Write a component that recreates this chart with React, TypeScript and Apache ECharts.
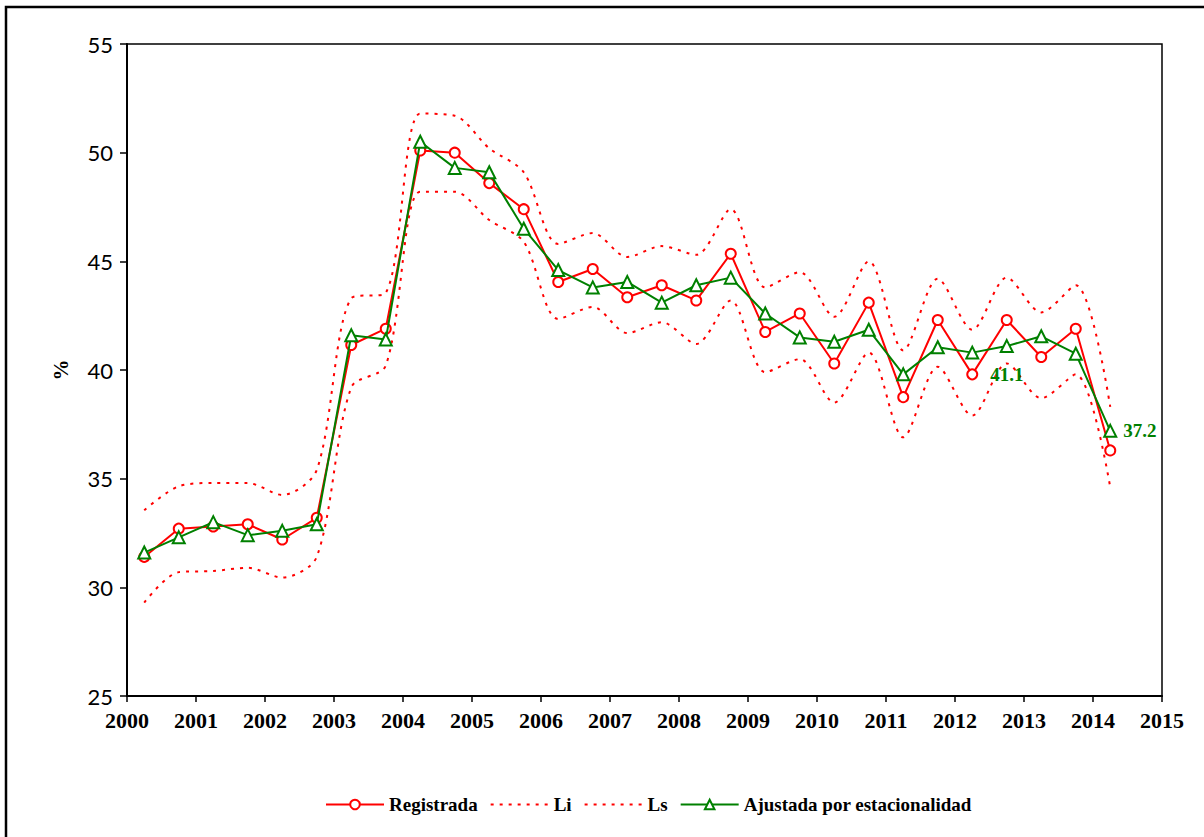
import React, { useEffect, useRef } from "react";
import * as echarts from "echarts";

const times = [
  2000.25, 2000.75, 2001.25, 2001.75, 2002.25, 2002.75, 2003.25, 2003.75,
  2004.25, 2004.75, 2005.25, 2005.75, 2006.25, 2006.75, 2007.25, 2007.75,
  2008.25, 2008.75, 2009.25, 2009.75, 2010.25, 2010.75, 2011.25, 2011.75,
  2012.25, 2012.75, 2013.25, 2013.75, 2014.25,
];

const registrada = [
  31.4, 32.7, 32.8, 32.9, 32.2, 33.2, 41.15, 41.9, 50.1, 50.0, 48.6, 47.4,
  44.05, 44.65, 43.35, 43.9, 43.2, 45.35, 41.75, 42.6, 40.3, 43.1, 38.75,
  42.3, 39.8, 42.3, 40.6, 41.9, 36.3,
];

const ajustada = [
  31.6, 32.3, 33.0, 32.4, 32.6, 32.9, 41.6, 41.4, 50.5, 49.3, 49.1, 46.5,
  44.6, 43.8, 44.05, 43.1, 43.9, 44.25, 42.6, 41.5, 41.3, 41.85, 39.8, 41.05,
  40.8, 41.1, 41.55, 40.75, 37.2,
];

const li = [
  29.3, 30.7, 30.75, 30.9, 30.45, 31.4, 39.2, 40.2, 48.2, 48.2, 46.9, 45.9,
  42.35, 42.9, 41.7, 42.2, 41.2, 43.2, 39.9, 40.5, 38.5, 40.8, 36.9, 40.15,
  37.9, 40.3, 38.7, 39.8, 34.6,
];

const ls = [
  33.55, 34.65, 34.8, 34.8, 34.25, 35.4, 43.3, 43.55, 51.8, 51.7, 50.2, 49.1,
  45.8, 46.3, 45.2, 45.7, 45.3, 47.4, 43.8, 44.5, 42.45, 45.0, 40.9, 44.2,
  41.85, 44.25, 42.65, 43.9, 38.3,
];

// indexes of the adjusted series that carry a value label
const labelledPoints = [25, 28];

const RED = "#ff0000";
const GREEN = "#008000";
const SERIF = "'Liberation Serif', 'Times New Roman', serif";

export default function App() {
  const ref = useRef<HTMLDivElement>(null);

  useEffect(() => {
    if (!ref.current) return;
    const chart = echarts.init(ref.current, undefined, { renderer: "svg" });

    const pairs = (vals: number[]) => vals.map((v, i) => [times[i], v]);

    const ajustadaData = ajustada.map((v, i) => {
      if (labelledPoints.indexOf(i) < 0) return [times[i], v];
      const last = i === ajustada.length - 1;
      return {
        value: [times[i], v],
        label: {
          show: true,
          position: last ? "right" : "bottom",
          distance: last ? 6 : 12,
          formatter: v.toFixed(1),
          color: GREEN,
          fontFamily: SERIF,
          fontWeight: "bold",
          fontSize: 19,
        },
      };
    });

    chart.setOption({
      animation: false,
      backgroundColor: "#ffffff",
      graphic: [
        {
          type: "rect",
          shape: { x: 6, y: 7, width: 1300, height: 900 },
          style: { fill: "none", stroke: "#000", lineWidth: 2.5 },
          silent: true,
        },
      ],
      grid: {
        left: 127,
        right: 1204 - 1162,
        top: 44,
        bottom: 837 - 696,
        show: true,
        borderColor: "#000",
        borderWidth: 1.5,
        backgroundColor: "transparent",
      },
      legend: {
        top: 790,
        left: 320,
        itemWidth: 58,
        itemHeight: 12,
        itemGap: 12,
        textStyle: {
          fontFamily: SERIF,
          fontWeight: "bold",
          fontSize: 19,
          color: "#000",
        },
        data: [
          "Registrada",
          { name: "Li", itemStyle: { opacity: 0 } },
          { name: "Ls", itemStyle: { opacity: 0 } },
          "Ajustada por estacionalidad",
        ],
      },
      xAxis: {
        type: "value",
        min: 2000,
        max: 2015,
        interval: 1,
        axisLine: { show: true, lineStyle: { color: "#000", width: 2 } },
        axisTick: { show: true, length: 6, lineStyle: { color: "#000", width: 1.5 } },
        splitLine: { show: false },
        axisLabel: {
          color: "#000",
          fontFamily: SERIF,
          fontWeight: "bold",
          fontSize: 22,
          margin: 13,
          formatter: (v: number) => String(v),
        },
      },
      yAxis: {
        type: "value",
        min: 25,
        max: 55,
        interval: 5,
        name: "%",
        nameLocation: "middle",
        nameGap: 56,
        nameRotate: 90,
        nameTextStyle: {
          color: "#000",
          fontFamily: SERIF,
          fontWeight: "bold",
          fontSize: 21,
        },
        axisLine: { show: true, lineStyle: { color: "#000", width: 2 } },
        axisTick: { show: true, length: 7, lineStyle: { color: "#000", width: 1.5 } },
        splitLine: { show: false },
        axisLabel: {
          color: "#000",
          fontFamily: "Lato, 'DejaVu Sans', sans-serif",
          fontSize: 22,
          margin: 14,
        },
      },
      series: [
        {
          name: "Registrada",
          type: "line",
          data: pairs(registrada),
          symbol: "emptyCircle",
          symbolSize: 10,
          lineStyle: { color: RED, width: 2 },
          itemStyle: { color: RED, borderWidth: 1.5 },
          z: 3,
        },
        {
          name: "Li",
          type: "line",
          data: pairs(li),
          symbol: "none",
          smooth: 0.3,
          lineStyle: { color: RED, width: 2, type: [3, 6] },
          itemStyle: { color: RED },
          z: 2,
        },
        {
          name: "Ls",
          type: "line",
          data: pairs(ls),
          symbol: "none",
          smooth: 0.3,
          lineStyle: { color: RED, width: 2, type: [3, 6] },
          itemStyle: { color: RED },
          z: 2,
        },
        {
          name: "Ajustada por estacionalidad",
          type: "line",
          data: ajustadaData,
          symbol: "emptyTriangle",
          symbolSize: 12,
          lineStyle: { color: GREEN, width: 2 },
          itemStyle: { color: GREEN, borderWidth: 1.5 },
          z: 4,
        },
      ],
    });

    return () => chart.dispose();
  }, []);

  return (
    <div
      ref={ref}
      style={{ position: "fixed", left: 0, top: 0, width: 1204, height: 837, background: "#fff" }}
    />
  );
}
